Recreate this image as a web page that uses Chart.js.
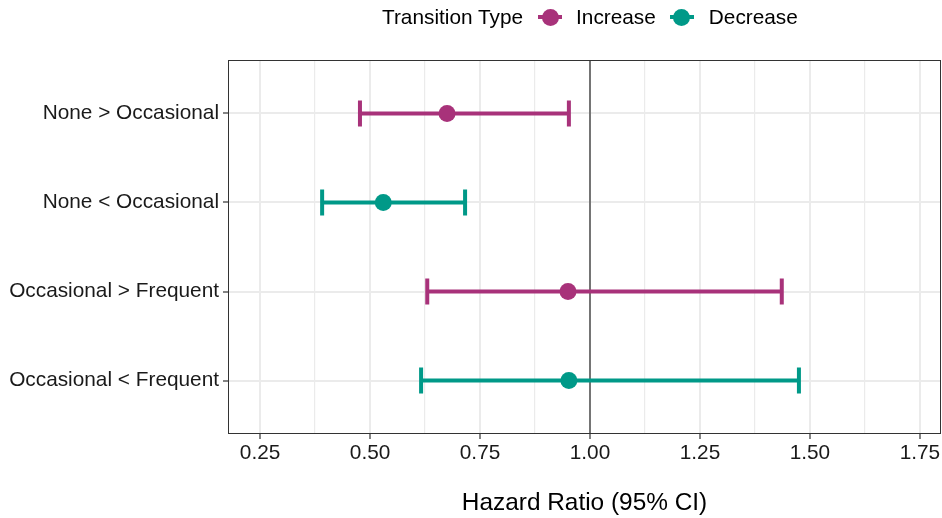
<!DOCTYPE html>
<html>
<head>
<meta charset="utf-8">
<script src="https://cdn.jsdelivr.net/npm/chart.js@4.4.1/dist/chart.umd.min.js"></script>
<style>
  html, body { margin: 0; padding: 0; background: #fff; }
  #wrap { position: relative; width: 942px; height: 518px; font-family: "Liberation Sans", Arial, Helvetica, sans-serif; }
  #legend { position: absolute; left: 382px; top: 4px; height: 26px; display: flex; align-items: center; font-size: 20.8px; color: #000; white-space: nowrap; }
  .sym { position: relative; width: 24px; height: 26px; display: inline-block; }
  .sym .ln { position: absolute; left: 0; right: 0; top: 11px; height: 4px; }
  .sym .dot { position: absolute; left: 3.5px; top: 4.5px; width: 17px; height: 17px; border-radius: 50%; }
</style>
</head>
<body>
<div id="wrap">
  <canvas id="forest" width="942" height="518"></canvas>
  <div id="legend"></div>
</div>
<script>
// Data
const categories = ['None > Occasional', 'None < Occasional', 'Occasional > Frequent', 'Occasional < Frequent'];
const types = ['Increase', 'Decrease', 'Increase', 'Decrease'];
const hazardRatio = [0.675, 0.530, 0.950, 0.952];
const lowerCI = [0.477, 0.391, 0.630, 0.616];
const upperCI = [0.952, 0.716, 1.436, 1.475];
const typeNames = ['Increase', 'Decrease'];
const typeColors = ['#A8327A', '#009988'];
const xMajorTicks = [0.25, 0.50, 0.75, 1.00, 1.25, 1.50, 1.75];
const xMinorTicks = [0.375, 0.625, 0.875, 1.125, 1.375, 1.625];

const FONT = '"Liberation Sans", Arial, Helvetica, sans-serif';
const colorOf = t => typeColors[typeNames.indexOf(t)];

// Legend (ggplot style, inline title)
const leg = document.getElementById('legend');
leg.innerHTML = '<span>Transition Type</span>' + typeNames.map((t, i) =>
  `<span class="sym" style="margin-left:${i ? 14 : 15}px"><span class="ln" style="background:${typeColors[i]}"></span><span class="dot" style="background:${typeColors[i]}"></span></span><span style="margin-left:${i ? 15 : 14}px">${t}</span>`
).join('');

const datasets = typeNames.map((t, k) => ({
  label: t,
  data: categories.map((c, i) => types[i] === t ? { x: hazardRatio[i], y: i } : null).filter(Boolean),
  backgroundColor: typeColors[k],
  borderWidth: 0,
  pointRadius: 8.5,
  pointHoverRadius: 8.5,
}));

// error bars, reference line and panel border
const forestPlugin = {
  id: 'forest',
  beforeDatasetsDraw(chart) {
    const { ctx, chartArea: a, scales: { x, y } } = chart;
    ctx.save();
    // reference line at HR = 1
    const x1 = x.getPixelForValue(1);
    ctx.strokeStyle = '#4d4d4d';
    ctx.lineWidth = 1.5;
    ctx.beginPath(); ctx.moveTo(x1, a.top); ctx.lineTo(x1, a.bottom); ctx.stroke();
    // CI bars
    categories.forEach((c, i) => {
      const py = y.getPixelForValue(i);
      const xl = x.getPixelForValue(lowerCI[i]);
      const xh = x.getPixelForValue(upperCI[i]);
      ctx.strokeStyle = colorOf(types[i]);
      ctx.lineWidth = 4;
      ctx.beginPath();
      ctx.moveTo(xl, py); ctx.lineTo(xh, py);
      ctx.moveTo(xl, py - 13); ctx.lineTo(xl, py + 13);
      ctx.moveTo(xh, py - 13); ctx.lineTo(xh, py + 13);
      ctx.stroke();
    });
    ctx.restore();
  },
  afterDraw(chart) {
    const { ctx, chartArea: a } = chart;
    ctx.save();
    ctx.strokeStyle = '#333333';
    ctx.lineWidth = 1;
    ctx.strokeRect(a.left + 0.5, a.top + 0.5, a.right - a.left - 1, a.bottom - a.top - 1);
    ctx.restore();
  }
};

new Chart(document.getElementById('forest'), {
  type: 'scatter',
  data: { datasets },
  plugins: [forestPlugin],
  options: {
    responsive: false,
    animation: false,
    layout: { autoPadding: false, padding: { top: 60, right: 1, left: 0, bottom: 0 } },
    plugins: { legend: { display: false }, tooltip: { enabled: false } },
    scales: {
      x: {
        type: 'linear',
        min: 0.177,
        max: 1.798,
        afterBuildTicks: s => { s.ticks = [...xMajorTicks, ...xMinorTicks].sort((a, b) => a - b).map(v => ({ value: v })); },
        afterFit: s => { s.height = 84; s.paddingLeft = 0; s.paddingRight = 0; },
        ticks: {
          autoSkip: false,
          maxRotation: 0,
          padding: 2,
          color: '#1a1a1a',
          font: { family: FONT, size: 20.8 },
          callback: v => xMajorTicks.includes(v) ? v.toFixed(2) : '',
        },
        grid: {
          color: '#ebebeb',
          lineWidth: c => xMajorTicks.includes(c.tick && c.tick.value) ? 2 : 1.2,
          tickColor: c => xMajorTicks.includes(c.tick && c.tick.value) ? '#333333' : 'rgba(0,0,0,0)',
          tickLength: 5,
          tickWidth: 1.2,
        },
        border: { display: false },
        title: {
          display: true,
          text: 'Hazard Ratio (95% CI)',
          color: '#000',
          font: { family: FONT, size: 24.4 },
          padding: { top: 0, bottom: 0 },
        },
      },
      y: {
        type: 'linear',
        min: -0.6,
        max: 3.6,
        reverse: true,
        afterBuildTicks: s => { s.ticks = categories.map((c, i) => ({ value: i })); },
        afterFit: s => { s.width = 228; s.paddingTop = 0; s.paddingBottom = 0; },
        ticks: {
          autoSkip: false,
          padding: 4,
          color: '#1a1a1a',
          font: { family: FONT, size: 20.8 },
          callback: v => categories[v] || '',
        },
        grid: {
          color: '#ebebeb',
          lineWidth: 2,
          tickColor: '#333333',
          tickLength: 5,
          tickWidth: 1.2,
        },
        border: { display: false },
      },
    },
  },
});
</script>
</body>
</html>
